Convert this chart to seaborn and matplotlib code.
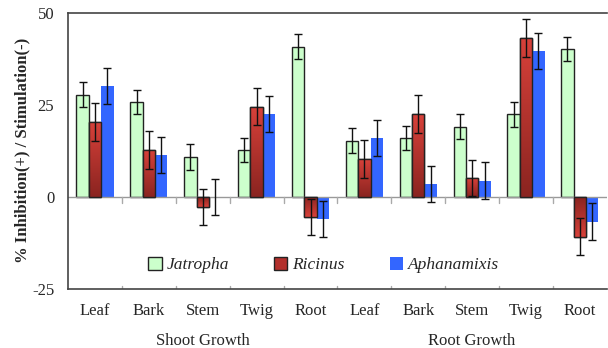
import numpy as np
import pandas as pd
import matplotlib
matplotlib.use("Agg")
import matplotlib.pyplot as plt
import seaborn as sns
from matplotlib.patches import Patch
from matplotlib.colors import LinearSegmentedColormap

groups = ["Shoot Growth", "Root Growth"]
parts = ["Leaf", "Bark", "Stem", "Twig", "Root"]
species = ["Jatropha", "Ricinus", "Aphanamixis"]

jatropha = [27.7, 25.8, 10.9, 12.8, 40.8, 15.2, 16.0, 19.1, 22.5, 40.1]
jatropha_err = [3.4, 3.3, 3.5, 3.3, 3.4, 3.4, 3.3, 3.3, 3.4, 3.3]
ricinus = [20.4, 12.8, -2.7, 24.5, -5.5, 10.3, 22.5, 5.1, 43.2, -10.8]
ricinus_err = [5.1, 5.1, 4.9, 5.1, 5.0, 5.1, 5.2, 5.0, 5.2, 5.0]
aphanamixis = [30.2, 11.4, 0.0, 22.6, -6.0, 16.0, 3.5, 4.4, 39.7, -6.7]
aphanamixis_err = [4.9, 5.0, 4.9, 4.9, 5.0, 4.9, 5.0, 5.1, 4.9, 4.9]

yticks = [-25, 0, 25, 50]

cats = [f"{g}|{p}" for g in groups for p in parts]
rows = []
for sp, vals, errs in [("Jatropha", jatropha, jatropha_err),
                       ("Ricinus", ricinus, ricinus_err),
                       ("Aphanamixis", aphanamixis, aphanamixis_err)]:
    for c, v, e in zip(cats, vals, errs):
        rows.append({"cat": c, "species": sp, "value": v, "err": e})
df = pd.DataFrame(rows)

sns.set_theme(style="white")
plt.rcParams["font.family"] = ["Liberation Serif", "DejaVu Serif"]

colors = {"Jatropha": "#ccffcc", "Ricinus": "#b3302c", "Aphanamixis": "#3366ff"}

fig = plt.figure(figsize=(6.08, 3.48), dpi=100)
ax = fig.add_axes([0.112, 0.170, 0.886, 0.793])

sns.barplot(data=df, x="cat", y="value", hue="species", order=cats,
            hue_order=species, palette=colors, width=0.69, errorbar=None,
            ax=ax, legend=False, saturation=1)

n = len(cats)
grad = np.linspace(0, 1, 100).reshape(-1, 1)
red_cmap = LinearSegmentedColormap.from_list("r", ["#8a2420", "#d8413a"])
for hi, sp in enumerate(species):
    sub = df[df.species == sp].set_index("cat").loc[cats]
    patches = ax.patches[hi * n:(hi + 1) * n]
    for p, (c, r) in zip(patches, sub.iterrows()):
        x0 = p.get_x(); w = p.get_width()
        y0 = p.get_y(); h = p.get_height()
        if sp == "Jatropha":
            p.set_edgecolor("#222222"); p.set_linewidth(1.0)
        elif sp == "Ricinus":
            p.set_edgecolor("#222222"); p.set_linewidth(1.0)
            ylo, yhi = min(y0, y0 + h), max(y0, y0 + h)
            im = ax.imshow(grad if r.value >= 0 else grad[::-1], cmap=red_cmap,
                           extent=[x0, x0 + w, ylo, yhi], origin="lower",
                           aspect="auto", zorder=p.get_zorder() + 0.1)
            im.set_clip_path(p)
            ax.add_patch(plt.Rectangle((x0, y0), w, h, fill=False,
                                       edgecolor="#222222", linewidth=1.0,
                                       zorder=p.get_zorder() + 0.2))
        else:
            p.set_edgecolor("none")
        ax.errorbar(x0 + w / 2, r.value, yerr=r.err, fmt="none",
                    ecolor="#111111", elinewidth=1.0, capsize=3,
                    capthick=1.0, zorder=5)

ax.set_xlim(-0.5, n - 0.5)
ax.set_ylim(-25, 50)
ax.set_yticks(yticks)
ax.set_yticklabels([str(t) for t in yticks], fontsize=12)
ax.tick_params(axis="y", length=0, pad=10)
ax.set_xticks(range(n))
ax.set_xticklabels([c.split("|")[1] for c in cats], fontsize=12)
ax.tick_params(axis="x", length=0, pad=10)
ax.set_xlabel("")
ax.set_ylabel("% Inhibition(+) / Stimulation(-)", fontsize=12,
              fontweight="bold", labelpad=1)

ax.axhline(0, color="#999999", linewidth=1.0, zorder=1)
for b in np.arange(0.5, n - 0.5, 1.0):
    ax.plot([b, b], [0, -1.6], color="#aaaaaa", linewidth=1.0, zorder=1)
    ax.plot([b, b], [-25, -24.2], color="#aaaaaa", linewidth=1.0, zorder=1)

for s in ["left", "bottom", "top"]:
    ax.spines[s].set_color("#444444")
    ax.spines[s].set_linewidth(1.2)
ax.spines["right"].set_visible(False)

for gi, g in enumerate(groups):
    ax.text(gi * 5 + 2, -0.19, g, transform=ax.get_xaxis_transform(),
            ha="center", va="center", fontsize=12)

handles = [Patch(facecolor="#ccffcc", edgecolor="#222222", linewidth=1.0),
           Patch(facecolor="#b3302c", edgecolor="#222222", linewidth=1.0),
           Patch(facecolor="#3366ff", edgecolor="none")]
leg = ax.legend(handles, species, loc="lower center", bbox_to_anchor=(0.475, 0.0),
                ncol=3, frameon=False, prop={"style": "italic", "size": 12.5},
                handlelength=0.75, handleheight=0.75, handletextpad=0.3,
                columnspacing=2.6)

fig.savefig("out.png", dpi=100)
